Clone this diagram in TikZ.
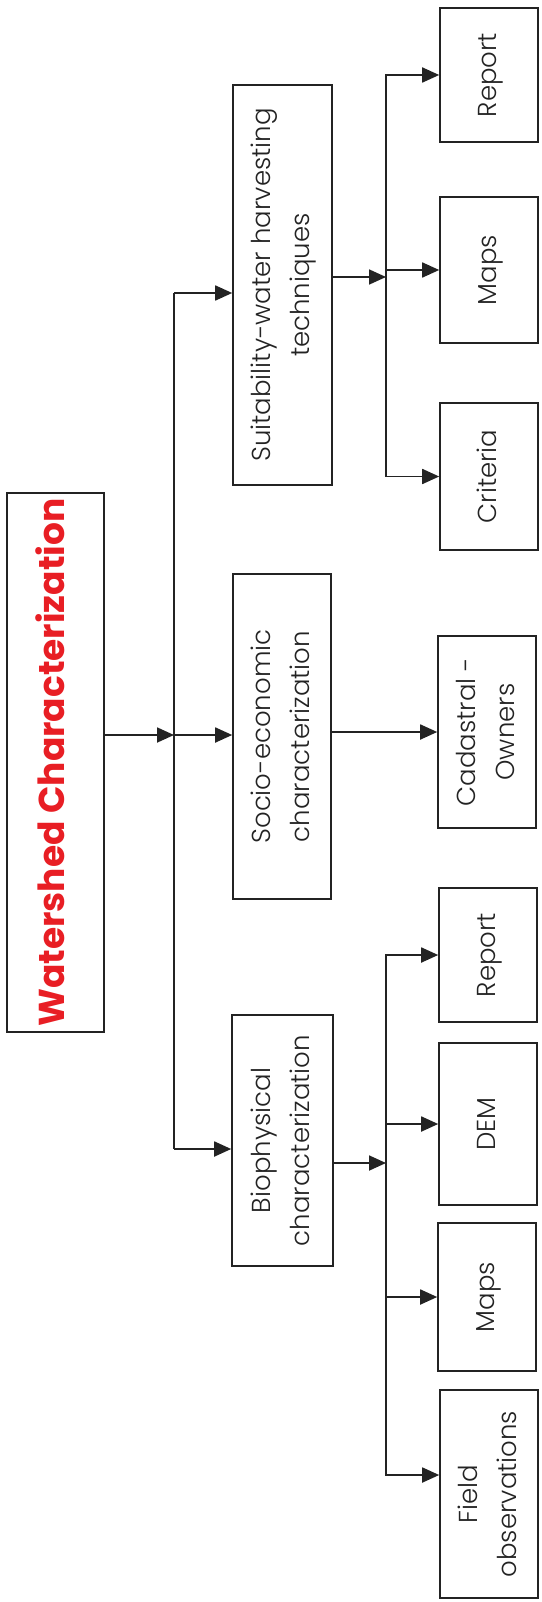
\documentclass[tikz,border=0pt]{standalone}
\usepackage{fontspec}
\setmainfont{Poppins Light}[BoldFont=Poppins Bold]
\usetikzlibrary{arrows.meta}
\definecolor{titlered}{RGB}{232,30,36}
\definecolor{ink}{RGB}{35,35,35}
\tikzset{
  box/.style = {draw=ink, line width=1.6pt, rectangle, inner sep=0pt,
    font=\fontsize{26}{39}\selectfont, text=ink},
  line/.style = {draw=ink, line width=1.8pt},
  arr/.style = {line, -{Triangle[length=17pt,width=15pt]}}
}
\newcommand{\up}[1]{\rotatebox{90}{\begin{tabular}{@{}c@{}}#1\end{tabular}}}

\begin{document}
\begin{tikzpicture}[x=1pt, y=-1pt]
  \useasboundingbox (0,0) rectangle (541,1602);
  % root
  \node[box, minimum width=97, minimum height=539, text=titlered,
        font=\fontsize{36}{44}\selectfont\bfseries] (main) at (55.5,762.5)
        {\up{Watershed Characterization}};
  % middle column
  \node[box, minimum width=99, minimum height=400] (suit) at (282.5,285)
        {\up{Suitability-water harvesting\\techniques}};
  \node[box, minimum width=98, minimum height=325] (socio) at (282,736.5)
        {\up{Socio-economic\\characterization}};
  \node[box, minimum width=101, minimum height=251] (bio) at (282.5,1140.5)
        {\up{Biophysical\\characterization}};
  % right column
  \node[box, minimum width=98, minimum height=134] (srep) at (489,75) {\up{Report}};
  \node[box, minimum width=98, minimum height=146] (smaps) at (489,270) {\up{Maps}};
  \node[box, minimum width=98, minimum height=147] (scrit) at (489,476.5) {\up{Criteria}};
  \node[box, minimum width=98, minimum height=192] (cad) at (487,732) {\up{Cadastral -\\Owners}};
  \node[box, minimum width=98, minimum height=134] (brep) at (488,955) {\up{Report}};
  \node[box, minimum width=98, minimum height=162] (bdem) at (488,1124) {\up{DEM}};
  \node[box, minimum width=98, minimum height=148] (bmaps) at (487,1297) {\up{Maps}};
  \node[box, minimum width=98, minimum height=208] (bfield) at (489,1494) {\up{Field\\observations}};
  % junctions
  \coordinate (m0) at (174,293);
  \coordinate (hub) at (174,735);
  \coordinate (m3) at (174,1149);
  \coordinate (s0) at (386,277);
  \coordinate (b0) at (386,1163);
  % arrows
  \draw[line] (m0) -- (m3);
  \draw[arr] (main.east |- hub) -- (hub);
  \draw[arr] (hub) -- (socio.west |- hub);
  \draw[arr] (m0) -- (suit.west |- m0);
  \draw[arr] (m3) -- (bio.west |- m3);
  \draw[arr] (suit.east |- s0) -- (s0);
  \draw[arr] (s0) |- (srep);
  \draw[arr] (s0) |- (smaps);
  \draw[arr] (s0) |- (scrit);
  \draw[arr] (socio.east |- cad) -- (cad);
  \draw[arr] (bio.east |- b0) -- (b0);
  \draw[arr] (b0) |- (brep);
  \draw[arr] (b0) |- (bdem);
  \draw[arr] (b0) |- (bmaps);
  \draw[arr] (b0) |- ([yshift=19pt]bfield.west);
\end{tikzpicture}
\end{document}
